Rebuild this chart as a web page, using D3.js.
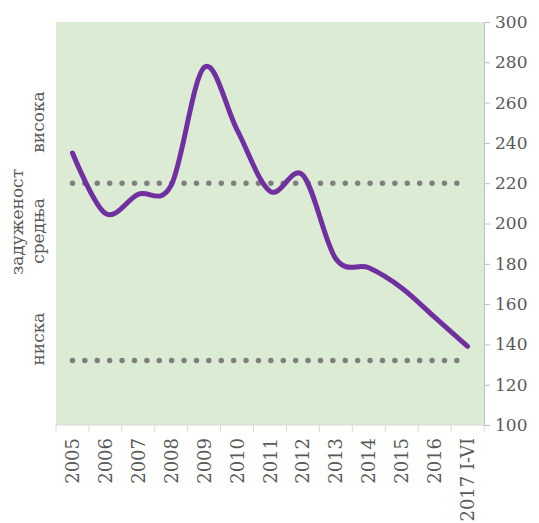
<!DOCTYPE html>
<html>
<head>
<meta charset="utf-8">
<script src="https://cdn.jsdelivr.net/npm/d3@7"></script>
<style>
  body { margin: 0; background: #fff; }
  text { font-family: "DejaVu Serif", "Liberation Serif", serif; fill: #595959; }
</style>
</head>
<body>
<div id="chart"></div>
<script>
const years = ["2005", "2006", "2007", "2008", "2009", "2010", "2011", "2012", "2013", "2014", "2015", "2016", "2017 I-VI"];
const debt = [235, 205, 214.5, 219, 277.5, 246.5, 216, 224, 182.5, 178, 168, 153.5, 139];
const highLine = [220, 220, 220, 220, 220, 220, 220, 220, 220, 220, 220, 220, 220];
const lowLine = [132, 132, 132, 132, 132, 132, 132, 132, 132, 132, 132, 132, 132];
const yTicks = [100, 120, 140, 160, 180, 200, 220, 240, 260, 280, 300];
const levelLabels = [
    {text: "висока", y: 122, x: 38},
    {text: "задуженост", y: 222, x: 17},
    {text: "средња", y: 231, x: 38},
    {text: "ниска", y: 339, x: 38}
];

const width = 539, height = 523;
const margin = {top: 22, right: 55, bottom: 98, left: 56};
const innerW = width - margin.left - margin.right;
const innerH = height - margin.top - margin.bottom;

const svg = d3.select("#chart")
    .append("svg")
    .attr("width", width)
    .attr("height", height);

const g = svg.append("g")
    .attr("transform", `translate(${margin.left},${margin.top})`);

const x = d3.scaleBand()
    .domain(years)
    .range([0, innerW]);

const y = d3.scaleLinear()
    .domain([100, 300])
    .range([innerH, 0]);

g.append("rect")
    .attr("width", innerW)
    .attr("height", innerH)
    .attr("fill", "#dcebd3");

// x axis: ticks at band edges
const xAxis = g.append("g")
    .attr("transform", `translate(0,${innerH})`);
xAxis.append("line")
    .attr("x1", 0).attr("x2", innerW)
    .attr("stroke", "#d9d9d9");
xAxis.selectAll("line.tick")
    .data(years.concat([null]))
    .enter()
    .append("line")
    .attr("class", "tick")
    .attr("x1", (d, i) => i * x.step())
    .attr("x2", (d, i) => i * x.step())
    .attr("y1", 0).attr("y2", 7)
    .attr("stroke", "#d9d9d9");
xAxis.selectAll("text")
    .data(years)
    .enter()
    .append("text")
    .attr("transform", d => `translate(${x(d) + x.bandwidth() / 2 + 6.5},13) rotate(-90)`)
    .attr("text-anchor", "end")
    .style("font-size", "18px")
    .text(d => d);

// right axis
const yAxis = g.append("g")
    .attr("transform", `translate(${innerW},0)`)
    .call(d3.axisRight(y).tickValues(yTicks).tickSize(6).tickPadding(5));
yAxis.select(".domain").attr("stroke", "#bfbfbf");
yAxis.selectAll(".tick line").attr("stroke", "#bfbfbf");
yAxis.selectAll(".tick text")
    .style("font-size", "17px")
    .style("font-family", "DejaVu Serif, serif")
    .attr("fill", "#595959");

const cx = (d, i) => x(years[i]) + x.bandwidth() / 2;

const flat = d3.line()
    .x(cx)
    .y(d => y(d));

[highLine, lowLine].forEach(s => {
    g.append("path")
        .datum(s)
        .attr("d", flat)
        .attr("fill", "none")
        .attr("stroke", "#7f7f7f")
        .attr("stroke-width", 5.5)
        .attr("stroke-linecap", "round")
        .attr("stroke-dasharray", "0 12.4");
});

const smooth = d3.line()
    .x(cx)
    .y(d => y(d))
    .curve(d3.curveCatmullRom.alpha(0));

g.append("path")
    .datum(debt)
    .attr("d", smooth)
    .attr("fill", "none")
    .attr("stroke", "#7030a0")
    .attr("stroke-width", 5)
    .attr("stroke-linecap", "round");

svg.selectAll("text.level")
    .data(levelLabels)
    .enter()
    .append("text")
    .attr("class", "level")
    .attr("transform", d => `translate(${d.x + 6},${d.y}) rotate(-90)`)
    .attr("text-anchor", "middle")
    .style("font-size", "17px")
    .text(d => d.text);
</script>
</body>
</html>
